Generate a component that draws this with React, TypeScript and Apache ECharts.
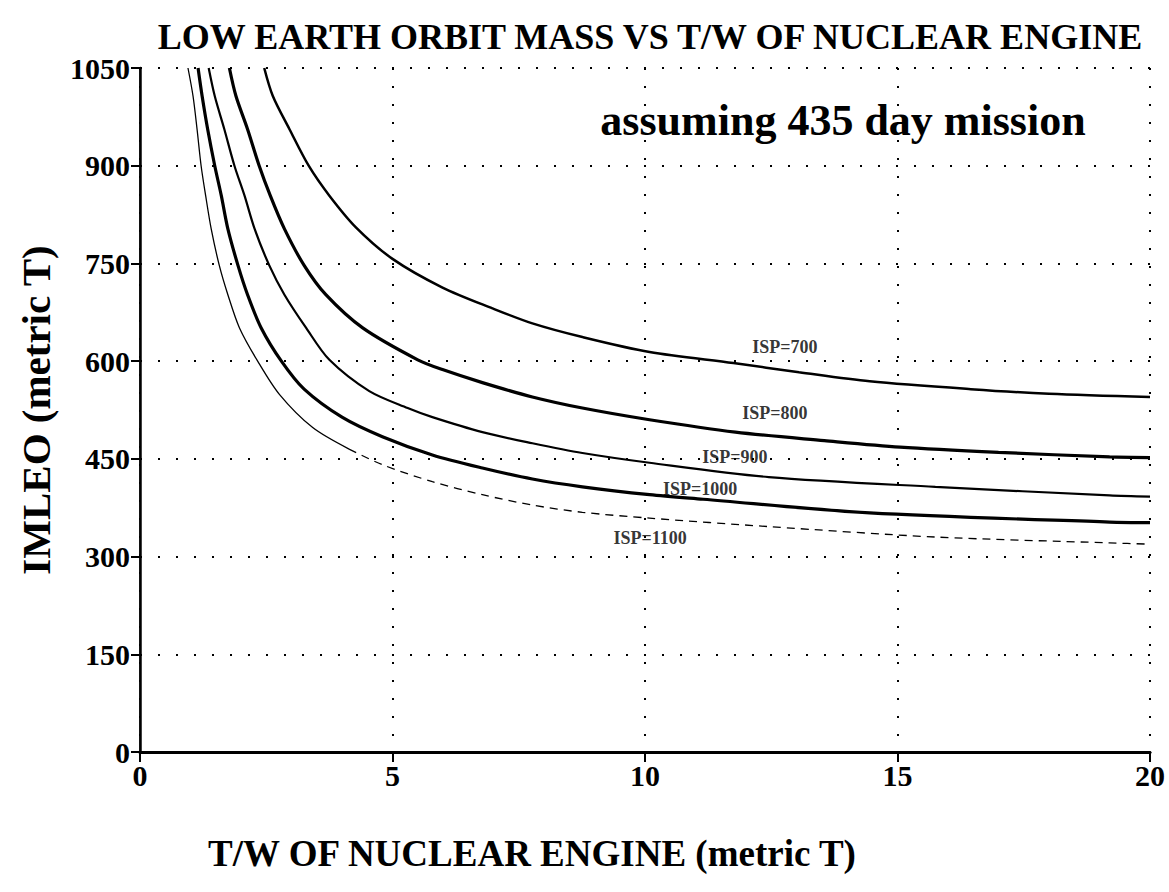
import React, { useEffect, useRef } from "react";
import * as echarts from "echarts";

const X_TICKS = { min: 0, max: 20, interval: 5 };
const Y_TICKS = { min: 0, max: 1050, interval: 150 };

const isp700: number[][] = [
  [2.46, 1050], [2.63, 1007], [2.96, 956], [3.34, 900], [3.75, 854], [4.28, 805], [5.0, 757],
  [5.99, 713], [6.98, 681], [7.77, 658], [8.76, 637], [10.09, 614], [11.75, 597], [13.05, 583],
  [14.45, 569], [16.45, 557], [18.0, 550], [20.0, 545],
];
const isp800: number[][] = [
  [1.77, 1050], [1.9, 1007], [2.13, 956], [2.36, 900], [2.58, 854], [2.86, 803], [3.25, 747],
  [3.68, 702], [4.41, 651], [5.5, 602], [5.99, 587], [6.78, 567], [7.77, 545], [8.76, 528],
  [10.09, 510], [11.79, 491], [13.55, 478], [15.05, 468], [17.0, 460], [19.2, 453], [20.0, 452],
];
const isp900: number[][] = [
  [1.36, 1050], [1.48, 1007], [1.67, 956], [1.87, 900], [2.07, 854], [2.27, 803], [2.56, 747],
  [2.86, 702], [3.29, 651], [3.75, 602], [4.54, 554], [5.3, 528], [5.79, 514], [6.78, 491],
  [7.77, 474], [8.76, 459], [10.09, 444], [12.45, 422], [15.75, 407], [19.2, 394], [20.0, 392],
];
const isp1000: number[][] = [
  [1.15, 1050], [1.23, 1007], [1.34, 956], [1.48, 900], [1.61, 854], [1.74, 803], [1.94, 747],
  [2.13, 702], [2.4, 651], [2.8, 600], [3.25, 557], [4.0, 514], [4.8, 484], [5.79, 456],
  [6.78, 436], [7.77, 419], [8.76, 407], [10.09, 395], [11.15, 388], [14.45, 367], [19.2, 353],
  [20.0, 352],
];
const isp1100Solid: number[][] = [
  [0.95, 1050], [1.05, 1007], [1.13, 956], [1.21, 900], [1.3, 854], [1.41, 803], [1.57, 747],
  [1.74, 702], [1.97, 651], [2.33, 600], [2.76, 549], [3.42, 498], [4.14, 465],
];
const isp1100Dashed: number[][] = [
  [4.14, 465], [4.8, 441], [5.79, 415], [6.78, 395], [7.77, 379], [8.76, 368], [10.09, 359],
  [12.45, 346], [15.75, 330], [19.2, 321], [20.0, 319],
];

const curveLabels = ["ISP=700", "ISP=800", "ISP=900", "ISP=1000", "ISP=1100"];
const curveLabelPos: number[][] = [
  [12.77, 622], [12.57, 520], [11.78, 453], [11.09, 404], [10.1, 328],
];

const TITLE = "LOW EARTH ORBIT MASS VS T/W OF NUCLEAR ENGINE";
const X_NAME = "T/W OF NUCLEAR ENGINE (metric T)";
const Y_NAME = "IMLEO (metric T)";
const NOTE = "assuming 435 day mission";

const FONT = "'Liberation Serif', 'Times New Roman', serif";

export default function App() {
  const ref = useRef<HTMLDivElement>(null);
  useEffect(() => {
    document.body.style.margin = "0";
    const chart = echarts.init(ref.current!, null, { renderer: "svg" });
    const dotted = { color: "#000", width: 2, type: [2, 16] as number[] };
    const lineSeries = (data: number[][], width: number, type: any = "solid") => ({
      type: "line",
      data,
      showSymbol: false,
      symbol: "none",
      smooth: 0.3,
      lineStyle: { color: "#000", width, type },
      z: 3,
    });
    chart.setOption({
      animation: false,
      backgroundColor: "#fff",
      grid: { left: 140, right: 19, top: 68, bottom: 140, containLabel: false },
      xAxis: [
        {
          type: "value",
          min: X_TICKS.min,
          max: X_TICKS.max,
          interval: X_TICKS.interval,
          axisLine: { show: true, onZero: false, lineStyle: { color: "#000", width: 2.5 } },
          axisTick: { show: true, length: 10, lineStyle: { color: "#000", width: 2 } },
          axisLabel: {
            color: "#000", fontFamily: FONT, fontWeight: "bold", fontSize: 30, margin: 8,
            formatter: (v: number) => String(v),
          },
          splitLine: { show: true, lineStyle: dotted },
        },
        {
          type: "value",
          position: "top",
          min: X_TICKS.min,
          max: X_TICKS.max,
          axisLine: { show: true, lineStyle: { color: "#000", width: 3 } },
          axisTick: { show: false },
          axisLabel: { show: false },
          splitLine: { show: false },
        },
      ],
      yAxis: [
        {
          type: "value",
          min: Y_TICKS.min,
          max: Y_TICKS.max,
          interval: Y_TICKS.interval,
          name: Y_NAME,
          nameLocation: "middle",
          nameRotate: 90,
          nameGap: 84,
          nameTextStyle: { color: "#000", fontFamily: FONT, fontWeight: "bold", fontSize: 41 },
          axisLine: { show: true, onZero: false, lineStyle: { color: "#000", width: 2.5 } },
          axisTick: { show: true, length: 9, lineStyle: { color: "#000", width: 2 } },
          axisLabel: {
            color: "#000", fontFamily: FONT, fontWeight: "bold", fontSize: 30, margin: 10,
            formatter: (v: number) => String(v),
          },
          splitLine: { show: true, lineStyle: dotted },
        },
        {
          type: "value",
          position: "right",
          min: Y_TICKS.min,
          max: Y_TICKS.max,
          axisLine: { show: true, lineStyle: { color: "#000", width: 1.5 } },
          axisTick: { show: false },
          axisLabel: { show: false },
          splitLine: { show: false },
        },
      ],
      series: [
        lineSeries(isp700, 2.5),
        lineSeries(isp800, 3.2),
        lineSeries(isp900, 2.2),
        lineSeries(isp1000, 3.2),
        lineSeries(isp1100Solid, 1.3),
        lineSeries(isp1100Dashed, 1.3, [8, 6]),
        {
          type: "scatter",
          symbolSize: 0,
          data: curveLabelPos.map((p, i) => ({ value: p, name: curveLabels[i] })),
          label: {
            show: true,
            position: "inside",
            formatter: (p: any) => p.name,
            color: "#000",
            fontFamily: FONT,
            fontWeight: "bold",
            fontSize: 18,
          },
          z: 5,
        },
      ],
      graphic: [
        {
          type: "text",
          x: 650,
          y: 37,
          style: {
            text: TITLE,
            fill: "#000",
            font: `bold 36px ${FONT}`,
            textAlign: "center",
            textVerticalAlign: "middle",
          },
        },
        {
          type: "text",
          x: 843,
          y: 120,
          style: {
            text: NOTE,
            fill: "#000",
            font: `bold 44px ${FONT}`,
            textAlign: "center",
            textVerticalAlign: "middle",
          },
        },
        {
          type: "text",
          x: 532,
          y: 853,
          style: {
            text: X_NAME,
            fill: "#000",
            font: `bold 37px ${FONT}`,
            textAlign: "center",
            textVerticalAlign: "middle",
          },
        },
      ],
    });
    return () => chart.dispose();
  }, []);
  return <div ref={ref} style={{ width: 1169, height: 892 }} />;
}
